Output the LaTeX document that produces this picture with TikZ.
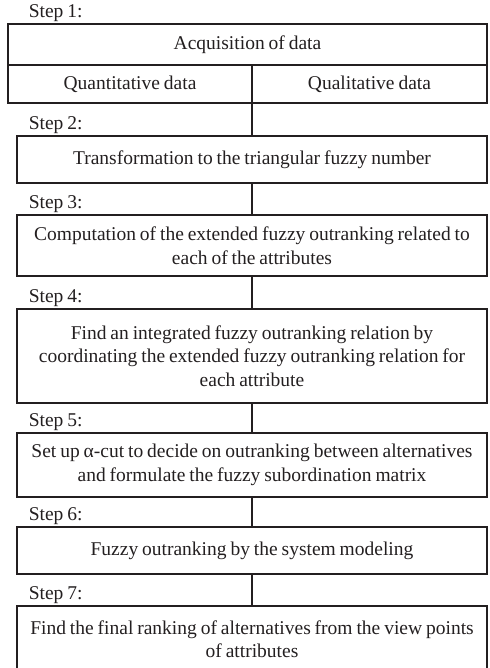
\documentclass[tikz,border=0pt]{standalone}
\usepackage{fontspec}
\setmainfont{Liberation Serif}[WordSpace=0.8]
\usetikzlibrary{positioning}
\definecolor{ink}{RGB}{35,31,32}
\begin{document}
\begin{tikzpicture}[x=1pt, y=1pt, align=flush center, line width=1.5pt, color=ink,
    font=\fontsize{19.5}{23.5}\selectfont,
    box/.style = {draw, rectangle, inner sep=0pt, outer sep=0pt, minimum width=470pt, text width=468pt},
    cell/.style = {draw, rectangle, inner sep=0pt, outer sep=0pt, anchor=north west, minimum height=38pt},
    lbl/.style = {anchor=base west, inner sep=0pt}]
            \useasboundingbox (0,0) rectangle (489,-668);
            \node[cell, minimum width=479pt, minimum height=41pt] (s1) at (8,-24) {Acquisition of data};
            \node[cell, minimum width=244pt] (s1a) at (s1.south west) {Quantitative data};
            \node[cell, minimum width=235pt] (s1b) at (s1a.north east) {Qualitative data};
            \node[box, minimum height=47pt] (s2) [below=33pt of s1a.south east] {Transformation to the triangular fuzzy number};
            \node[box, minimum height=61pt] (s3) [below=32pt of s2] {Computation of the extended fuzzy outranking related to\\ each of the attributes};
            \node[box, minimum height=94pt] (s4) [below=33pt of s3] {Find an integrated fuzzy outranking relation by\\ coordinating the extended fuzzy outranking relation for\\ each attribute};
            \node[box, minimum height=64pt] (s5) [below=30pt of s4] {Set up α-cut to decide on outranking between alternatives\\ and formulate the fuzzy subordination matrix};
            \node[box, minimum height=47pt] (s6) [below=30pt of s5] {Fuzzy outranking by the system modeling};
            \node[box, minimum height=66pt] (s7) [below=32pt of s6] {Find the final ranking of alternatives from the view points\\ of attributes};
            \node[lbl] (l1) at ([xshift=20pt, yshift=6pt]s1.north west) {Step 1:};
            \node[lbl] (l2) at ([xshift=11pt, yshift=6pt]s2.north west) {Step 2:};
            \node[lbl] (l3) at ([xshift=11pt, yshift=7pt]s3.north west) {Step 3:};
            \node[lbl] (l4) at ([xshift=11pt, yshift=7pt]s4.north west) {Step 4:};
            \node[lbl] (l5) at ([xshift=11pt, yshift=7pt]s5.north west) {Step 5:};
            \node[lbl] (l6) at ([xshift=11pt, yshift=7pt]s6.north west) {Step 6:};
            \node[lbl] (l7) at ([xshift=11pt, yshift=7pt]s7.north west) {Step 7:};
            \draw (s1a.south east) -- (s2);
            \draw (s2) -- (s3);
            \draw (s3) -- (s4);
            \draw (s4) -- (s5);
            \draw (s5) -- (s6);
            \draw (s6) -- (s7);
        \end{tikzpicture}
\end{document}
